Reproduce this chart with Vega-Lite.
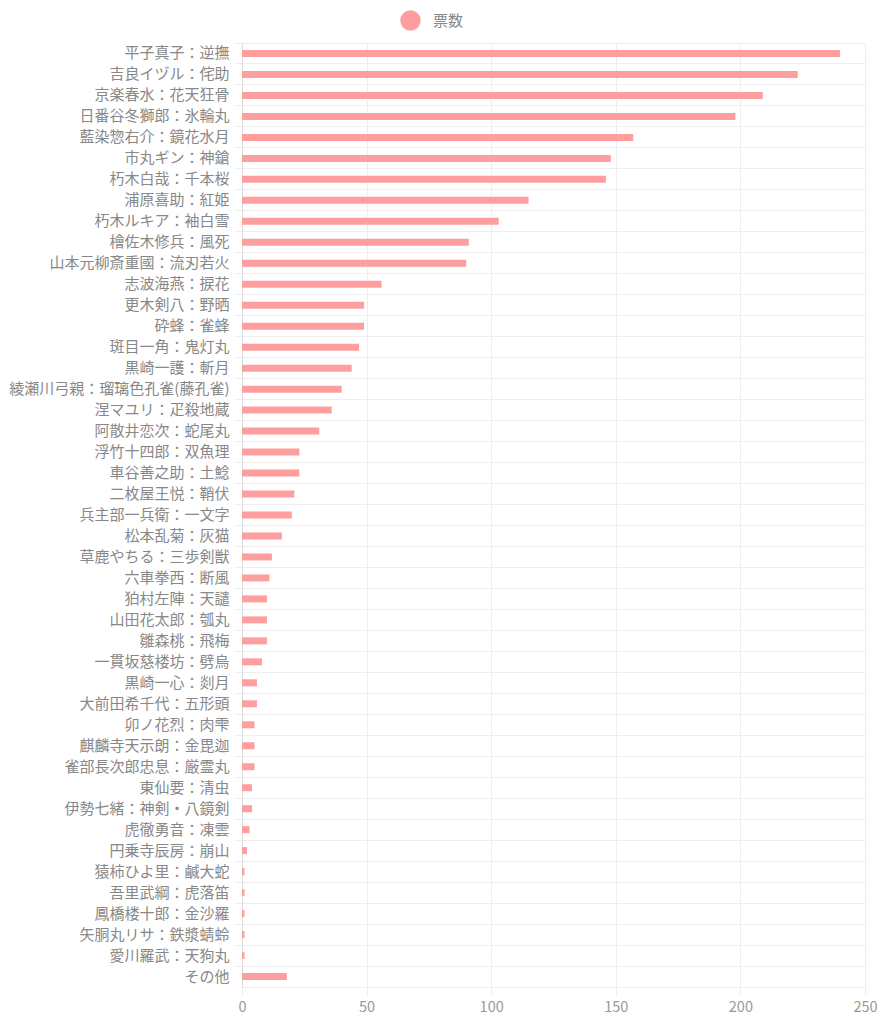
{
  "$schema": "https://vega.github.io/schema/vega-lite/v6.json",
  "autosize": "none",
  "width": 623,
  "height": 944,
  "padding": {"left": 242, "top": 43, "right": 17, "bottom": 37},
  "background": "white",
  "config": {
    "font": "Noto Sans CJK JP",
    "view": {"stroke": null}
  },
  "data": {
    "values": [
      {"name": "平子真子：逆撫", "votes": 240},
      {"name": "吉良イヅル：侘助", "votes": 223},
      {"name": "京楽春水：花天狂骨", "votes": 209},
      {"name": "日番谷冬獅郎：氷輪丸", "votes": 198},
      {"name": "藍染惣右介：鏡花水月", "votes": 157},
      {"name": "市丸ギン：神鎗", "votes": 148},
      {"name": "朽木白哉：千本桜", "votes": 146},
      {"name": "浦原喜助：紅姫", "votes": 115},
      {"name": "朽木ルキア：袖白雪", "votes": 103},
      {"name": "檜佐木修兵：風死", "votes": 91},
      {"name": "山本元柳斎重國：流刃若火", "votes": 90},
      {"name": "志波海燕：捩花", "votes": 56},
      {"name": "更木剣八：野晒", "votes": 49},
      {"name": "砕蜂：雀蜂", "votes": 49},
      {"name": "斑目一角：鬼灯丸", "votes": 47},
      {"name": "黒崎一護：斬月", "votes": 44},
      {"name": "綾瀬川弓親：瑠璃色孔雀(藤孔雀)", "votes": 40},
      {"name": "涅マユリ：疋殺地蔵", "votes": 36},
      {"name": "阿散井恋次：蛇尾丸", "votes": 31},
      {"name": "浮竹十四郎：双魚理", "votes": 23},
      {"name": "車谷善之助：土鯰", "votes": 23},
      {"name": "二枚屋王悦：鞘伏", "votes": 21},
      {"name": "兵主部一兵衛：一文字", "votes": 20},
      {"name": "松本乱菊：灰猫", "votes": 16},
      {"name": "草鹿やちる：三歩剣獣", "votes": 12},
      {"name": "六車拳西：断風", "votes": 11},
      {"name": "狛村左陣：天譴", "votes": 10},
      {"name": "山田花太郎：瓠丸", "votes": 10},
      {"name": "雛森桃：飛梅", "votes": 10},
      {"name": "一貫坂慈楼坊：劈烏", "votes": 8},
      {"name": "黒崎一心：剡月", "votes": 6},
      {"name": "大前田希千代：五形頭", "votes": 6},
      {"name": "卯ノ花烈：肉雫", "votes": 5},
      {"name": "麒麟寺天示朗：金毘迦", "votes": 5},
      {"name": "雀部長次郎忠息：厳霊丸", "votes": 5},
      {"name": "東仙要：清虫", "votes": 4},
      {"name": "伊勢七緒：神剣・八鏡剣", "votes": 4},
      {"name": "虎徹勇音：凍雲", "votes": 3},
      {"name": "円乗寺辰房：崩山", "votes": 2},
      {"name": "猿柿ひよ里：鹹大蛇", "votes": 1},
      {"name": "吾里武綱：虎落笛", "votes": 1},
      {"name": "鳳橋楼十郎：金沙羅", "votes": 1},
      {"name": "矢胴丸リサ：鉄漿蜻蛉", "votes": 1},
      {"name": "愛川羅武：天狗丸", "votes": 1},
      {"name": "その他", "votes": 18}
    ]
  },
  "mark": {"type": "bar", "size": 7},
  "encoding": {
    "y": {
      "field": "name",
      "type": "nominal",
      "sort": null,
      "scale": {"paddingInner": 0, "paddingOuter": 0},
      "axis": {
        "title": null,
        "bandPosition": 0,
        "grid": true,
        "gridColor": "#eeeeee",
        "tickColor": "#eeeeee",
        "tickSize": 8,
        "domain": true,
        "domainColor": "#dddddd",
        "labelPadding": 5,
        "labelFontSize": 15,
        "labelColor": "#888888",
        "labelLimit": 0,
        "labelBound": false
      }
    },
    "x": {
      "field": "votes",
      "type": "quantitative",
      "scale": {"domain": [0, 250]},
      "axis": {
        "title": null,
        "values": [0, 50, 100, 150, 200, 250],
        "grid": true,
        "gridColor": "#eeeeee",
        "tickColor": "#eeeeee",
        "tickSize": 8,
        "domain": true,
        "domainColor": "#eeeeee",
        "labelPadding": 5,
        "labelFontSize": 14.5,
        "labelColor": "#999999",
        "labelFlush": false
      }
    },
    "color": {
      "datum": "票数",
      "type": "nominal",
      "scale": {"range": ["#fe9e9e"]},
      "legend": {
        "title": null,
        "orient": "none",
        "legendX": 158,
        "legendY": -33,
        "symbolType": "circle",
        "symbolSize": 420,
        "symbolStrokeWidth": 0,
        "labelFontSize": 15,
        "labelColor": "#888888",
        "labelOffset": 12,
        "padding": 0
      }
    }
  }
}
